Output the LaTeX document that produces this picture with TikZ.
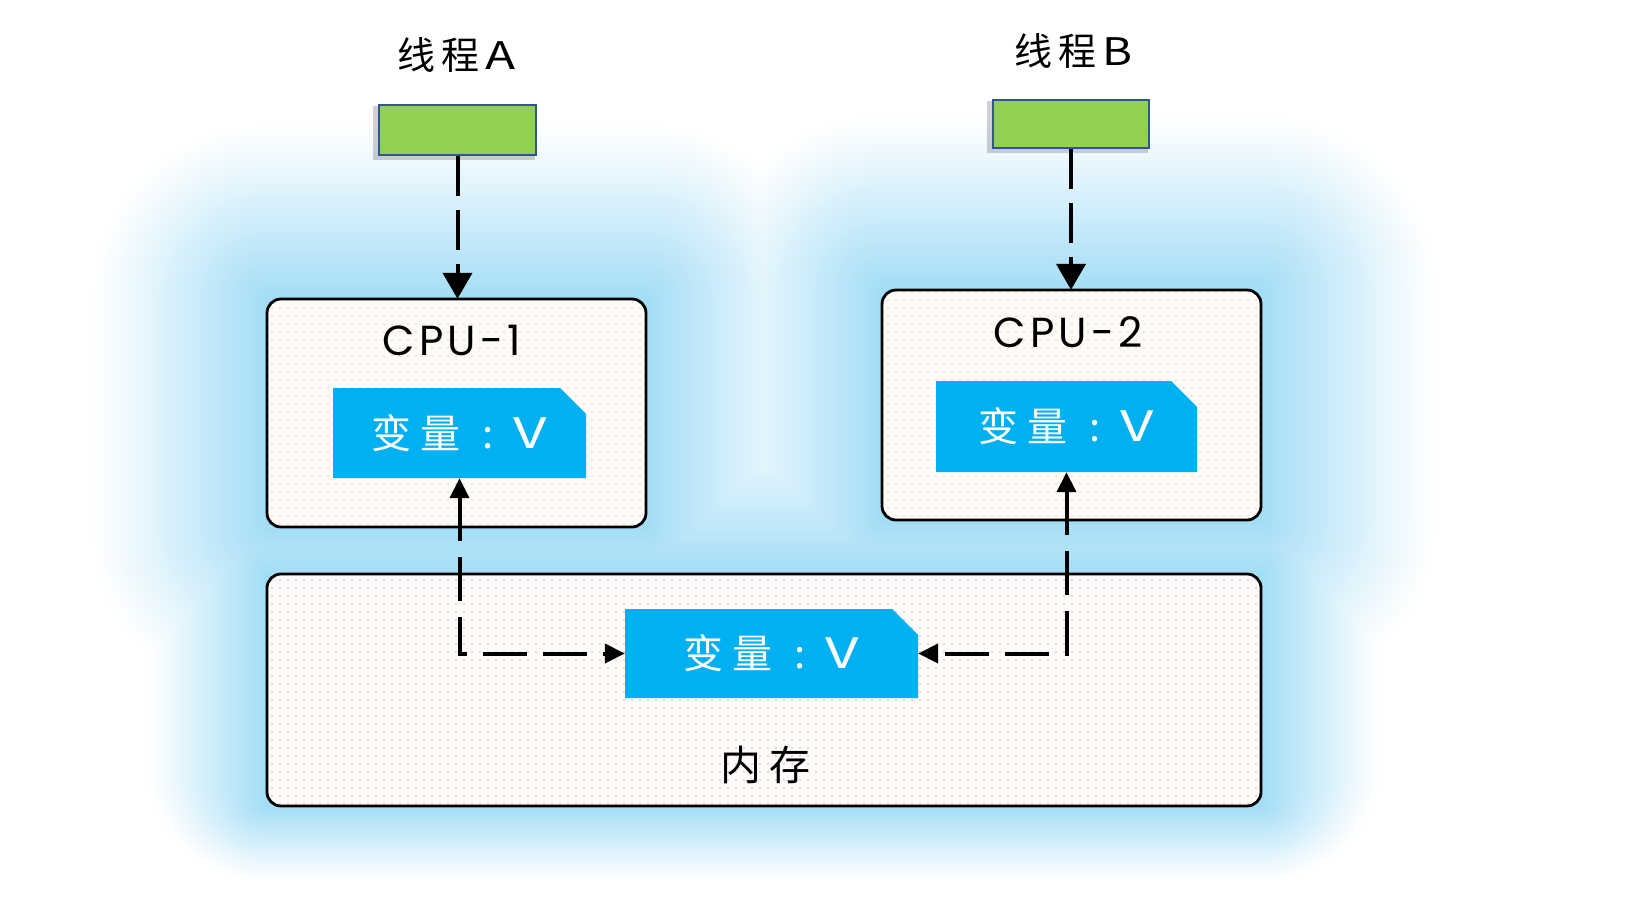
\documentclass[tikz,border=0pt]{standalone}
\usepackage{fontspec}
\newfontfamily\cjk{Noto Sans CJK SC}
\newfontfamily\lat[LetterSpace=10]{Poppins}
\usetikzlibrary{arrows.meta,patterns.meta,shapes.misc}
\pgfdeclarelayer{bg}
\pgfsetlayers{bg,main}
\definecolor{varblue}{RGB}{0,176,240}
\definecolor{thgreen}{RGB}{146,208,80}
\definecolor{thborder}{RGB}{47,85,151}
\definecolor{glowc}{RGB}{105,200,240}
\definecolor{cpubg}{RGB}{253,251,248}
\definecolor{membg}{RGB}{253,250,250}
\definecolor{dotor}{RGB}{250,205,160}
\definecolor{dotred}{RGB}{242,170,170}
\pgfdeclareverticalshading{cpushade}{100bp}{color(0bp)=(glowc!30!white); color(22bp)=(cpubg); color(100bp)=(cpubg)}
\pgfdeclareverticalshading{memshade}{100bp}{color(0bp)=(membg); color(72bp)=(membg); color(100bp)=(glowc!40!white)}
\tikzset{
  thbox/.style={draw=thborder, line width=2.5pt, fill=thgreen, inner sep=0pt},
  cpubox/.style={rounded corners=14pt, shade, shading=cpushade, inner sep=0pt,
    postaction={pattern={Dots[distance=8pt,radius=0.9pt]}, pattern color=dotor},
    postaction={draw=black, line width=2.8pt}},
  membox/.style={rounded corners=14pt, shade, shading=memshade, inner sep=0pt,
    postaction={pattern={Dots[distance=8pt,radius=0.9pt]}, pattern color=dotred},
    postaction={draw=black, line width=2.8pt}},
  varbox/.style={chamfered rectangle, chamfered rectangle corners=north east,
    chamfered rectangle xsep=13pt, chamfered rectangle ysep=13pt,
    fill=varblue, inner sep=0pt, text=white, font=\cjk\fontsize{40}{40}\selectfont},
  thrarrow/.style={draw=black, line width=4pt, dash pattern=on 40pt off 14pt,
    -{Triangle[width=29pt,length=26pt]}},
  vararrow/.style={draw=black, line width=4pt, dash pattern=on 44pt off 16pt,
    {Triangle[width=19pt,length=20pt]}-{Triangle[width=19pt,length=20pt]}},
  thlabel/.style={font=\cjk\fontsize{38}{38}\selectfont, text=black},
  cpulabel/.style={font=\lat\fontsize{42}{42}\selectfont, text=black},
}
\newcommand{\vartext}{变\hspace{9pt}量\hspace{22pt}:\hspace{20pt}\scalebox{1.45}[1.05]{V}}
\begin{document}
\begin{tikzpicture}[x=1pt,y=-1pt]
\useasboundingbox (0,0) rectangle (1637,900);

% boxes
\node[cpubox, minimum width=379pt, minimum height=228pt] (cpu1) at (456.5,413) {};
\node[cpubox, minimum width=379pt, minimum height=230pt] (cpu2) at (1071.5,405) {};
\node[membox, minimum width=994pt, minimum height=232pt] (mem) at (764,690) {};

% thread boxes
\node[thbox, minimum width=157pt, minimum height=50pt] (greenA) at (457.5,130) {};
\node[thbox, minimum width=156pt, minimum height=48pt] (greenB) at (1071,124) {};

% variable boxes
\node[varbox, minimum width=253pt, minimum height=90pt] (var1) at (459.5,433) {\vartext};
\node[varbox, minimum width=261pt, minimum height=91pt] (var2) at (1066.5,426.5) {\vartext};
\node[varbox, minimum width=293pt, minimum height=89pt] (varm) at (771.5,653.5) {\vartext};

% labels
\node[thlabel] (lblA) at (457,55) {线\hspace{6pt}程\hspace{6pt}\scalebox{1.3}[1]{A}};
\node[thlabel] (lblB) at (1073,51) {线\hspace{6pt}程\hspace{6pt}\scalebox{1.2}[1]{B}};
\node[cpulabel] (cpu1lbl) at (452,340) {CPU-1};
\node[cpulabel] (cpu2lbl) at (1068,332) {CPU-2};
\node[font=\cjk\fontsize{41}{41}\selectfont] (memlbl) at (765,765) {内\hspace{8pt}存};

% connectors
\draw[thrarrow] (greenA.south) -- (greenA.south |- cpu1.north);
\draw[thrarrow] (greenB.south) -- (greenB.south |- cpu2.north);
\draw[vararrow] (var1.south) |- (varm.west);
\draw[vararrow] (var2.south) |- (varm.east);

% background glow (opaque layers, drawn from faint to strong)
\begin{pgfonlayer}{bg}
  \fill[white] (0,0) rectangle (1637,900);
  \foreach \k in {1,...,45} {
    \pgfmathsetmacro{\t}{\k/45}
    \pgfmathsetmacro{\p}{62*\t^1.05}
    \pgfmathsetmacro{\dc}{175*(1-\t)}
    \pgfmathsetmacro{\dmx}{120*(1-\t)}
    \pgfmathsetmacro{\dmt}{165*(1-\t)}
    \pgfmathsetmacro{\dmb}{75*(1-\t)}
    \pgfmathsetmacro{\rc}{max(\dc,2)}
    \pgfmathsetmacro{\rm}{max(\dmx,2)}
    \fill[glowc!\p!white,rounded corners=\rc pt] ([shift={(-\dc,-\dc)}]cpu1.north west) rectangle ([shift={(\dc,\dc)}]cpu1.south east);
    \fill[glowc!\p!white,rounded corners=\rc pt] ([shift={(-\dc,-\dc)}]cpu2.north west) rectangle ([shift={(\dc,\dc)}]cpu2.south east);
    \fill[glowc!\p!white,rounded corners=\rm pt] ([shift={(-\dmx,-\dmt)}]mem.north west) rectangle ([shift={(\dmx,\dmb)}]mem.south east);
  }
  \fill[black,opacity=0.18] ([shift={(-5,2)}]greenA.north west) rectangle ([shift={(-2,4)}]greenA.south east);
  \fill[black,opacity=0.18] ([shift={(-5,2)}]greenB.north west) rectangle ([shift={(-2,4)}]greenB.south east);
\end{pgfonlayer}
\end{tikzpicture}
\end{document}
